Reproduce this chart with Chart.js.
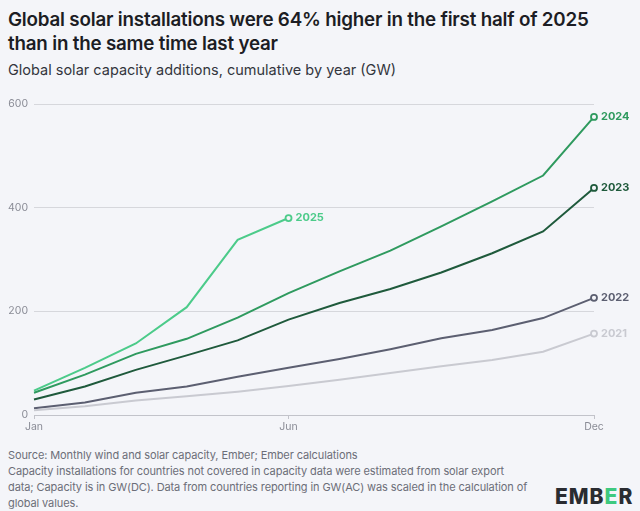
<!DOCTYPE html>
<html>
<head>
<meta charset="utf-8">
<script src="https://cdn.jsdelivr.net/npm/chart.js@4"></script>
<style>
  body { margin: 0; background: #f4f5f9; font-family: Inter, "Noto Sans", sans-serif; width: 640px; height: 511px; overflow: hidden; position: relative; }
  h1 { position: absolute; left: 8px; top: 8px; margin: 0; font-size: 18.8px; line-height: 24px; font-weight: 600; color: #1c1d24; letter-spacing: -0.2px; }
  .sub { position: absolute; left: 8px; top: 61px; font-size: 14.5px; color: #33353d; }
  #wrap { position: absolute; left: 0; top: 90px; width: 640px; height: 355px; }
  .foot { position: absolute; left: 8px; top: 447px; font-size: 11px; line-height: 16px; color: #6c6e78; width: 520px; letter-spacing: -0.1px; }
  .logo { position: absolute; left: 555px; top: 484px; font-size: 21px; font-weight: 800; color: #2a2c31; letter-spacing: 1px; }
  .logo span { color: #3ec97f; }
</style>
</head>
<body>
<h1>Global solar installations were 64% higher in the first half of 2025<br>than in the same time last year</h1>
<div class="sub">Global solar capacity additions, cumulative by year (GW)</div>
<div id="wrap"><canvas id="myChart"></canvas></div>
<div class="foot">Source: Monthly wind and solar capacity, Ember; Ember calculations<br>Capacity installations for countries not covered in capacity data were estimated from solar export data; Capacity is in GW(DC). Data from countries reporting in GW(AC) was scaled in the calculation of global values.</div>
<div class="logo">EMB<span>E</span>R</div>
<script>
const months = ["Jan", "Feb", "Mar", "Apr", "May", "Jun", "Jul", "Aug", "Sep", "Oct", "Nov", "Dec"];
const shownMonths = ["Jan", "Jun", "Dec"];
const yTicks = [0, 200, 400, 600];

const years = ["2021", "2022", "2023", "2024", "2025"];
const y2021 = [9, 17, 28, 36, 45, 56, 68, 81, 94, 106, 122, 157];
const y2022 = [13, 24, 43, 55, 74, 91, 108, 127, 148, 164, 187, 226];
const y2023 = [30, 55, 87, 115, 144, 184, 216, 243, 275, 312, 354, 438];
const y2024 = [43, 78, 118, 147, 188, 235, 277, 317, 364, 412, 462, 575];
const y2025 = [47, 91, 138, 208, 338, 380];

const colors = ["#c9cad1", "#5c5f71", "#1f5a3c", "#2f9a5f", "#4ccb8a"];
const values = [y2021, y2022, y2023, y2024, y2025];

// circle + year label at the end of each line
const endLabels = {
  id: "endLabels",
  afterDatasetsDraw(chart) {
    const ctx = chart.ctx;
    chart.data.datasets.forEach((ds, i) => {
      const meta = chart.getDatasetMeta(i);
      const pt = meta.data[ds.data.length - 1];
      if (!pt) return;
      ctx.save();
      ctx.font = "bold 11px Inter, sans-serif";
      ctx.fillStyle = ds.borderColor;
      ctx.textBaseline = "middle";
      ctx.fillText(ds.label, pt.x + 7, pt.y);
      ctx.restore();
    });
  }
};

const ctx = document.getElementById("myChart").getContext("2d");
new Chart(ctx, {
  type: "line",
  data: {
    labels: months,
    datasets: years.map((yr, i) => ({
      label: yr,
      data: values[i],
      borderColor: colors[i],
      borderWidth: 2,
      tension: 0,
      pointRadius: (c) => (c.dataIndex === values[i].length - 1 ? 3 : 0),
      pointBorderWidth: 1.8,
      pointBackgroundColor: "#f4f5f9",
      pointBorderColor: colors[i],
    })),
  },
  plugins: [endLabels],
  options: {
    responsive: true,
    maintainAspectRatio: false,
    animation: false,
    layout: { padding: { top: 14, right: 46, bottom: 4, left: 0 } },
    plugins: { legend: { display: false }, tooltip: { enabled: false } },
    scales: {
      x: {
        grid: { display: true, drawOnChartArea: false, tickLength: 4, color: (c) => (shownMonths.includes(months[c.index]) ? "#c2c3ca" : "rgba(0,0,0,0)") },
        border: { display: false },
        ticks: {
          autoSkip: false,
          maxRotation: 0,
          padding: 2,
          color: "#8a8c96",
          font: { family: "Inter", size: 10.5 },
          callback: (v, i) => (shownMonths.includes(months[i]) ? months[i] : ""),
        },
        afterFit: (s) => { s.height = 26; },
      },
      y: {
        min: 0,
        max: 600,
        afterBuildTicks: (s) => { s.ticks = yTicks.map((v) => ({ value: v })); },
        grid: { color: (c) => (c.tick.value === 0 ? "#c2c3ca" : "#d6d7dc"), lineWidth: 1, drawTicks: false },
        border: { display: false },
        ticks: { color: "#8a8c96", padding: 6, font: { family: "Inter", size: 10.5 } },
        afterFit: (s) => { s.width = 34; },
      },
    },
  },
});
</script>
</body>
</html>
